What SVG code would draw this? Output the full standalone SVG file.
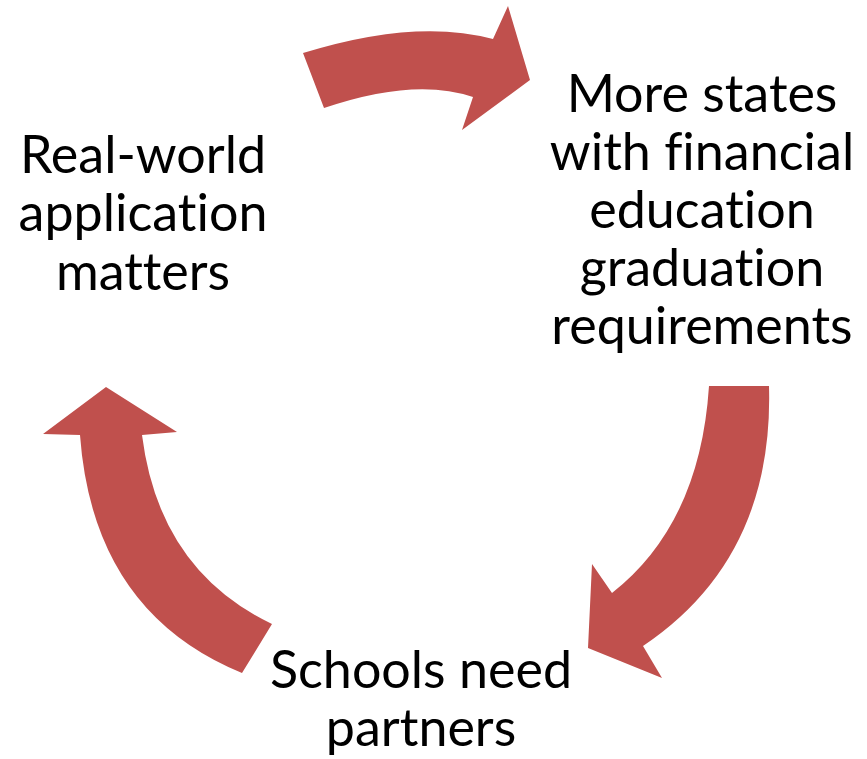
<svg xmlns="http://www.w3.org/2000/svg" width="867" height="759" viewBox="0 0 867 759">
<style>
.arrow{fill:#C0504D;stroke:none}
.lbl{font-family:Lato,"Open Sans","Liberation Sans",sans-serif;font-size:52px;fill:#000;text-anchor:middle;font-variant-ligatures:none;font-feature-settings:"liga" 0,"dlig" 0}
</style>
<rect width="867" height="759" fill="#fff"/>
<g id="connectors">
<path class="arrow" d="M303,53 Q416,18 493,39 L508,6 L530,80 L462,130 L473,97 Q415,77 324,108 Z"/>
<path class="arrow" d="M709,386 L769,386 Q774,558 643,646 L662,678 L588,648 L592,564 L612,593 Q700,524 709,386 Z"/>
<path class="arrow" d="M106,387 L177,432 L142,435 Q159,570 272,624 L242,673 Q93,612 80,435 L43,434 Z"/>
</g>
<g id="node-states">
<text class="lbl" x="702" y="112">More states</text>
<text class="lbl" x="702" y="170">with financial</text>
<text class="lbl" x="702" y="228">education</text>
<text class="lbl" x="702" y="286">graduation</text>
<text class="lbl" x="702" y="344">requirements</text>
</g>
<g id="node-schools">
<text class="lbl" x="421" y="688">Schools need</text>
<text class="lbl" x="421" y="746">partners</text>
</g>
<g id="node-realworld">
<text class="lbl" x="143" y="173">Real-world</text>
<text class="lbl" x="143" y="231">application</text>
<text class="lbl" x="143" y="290">matters</text>
</g>
</svg>
